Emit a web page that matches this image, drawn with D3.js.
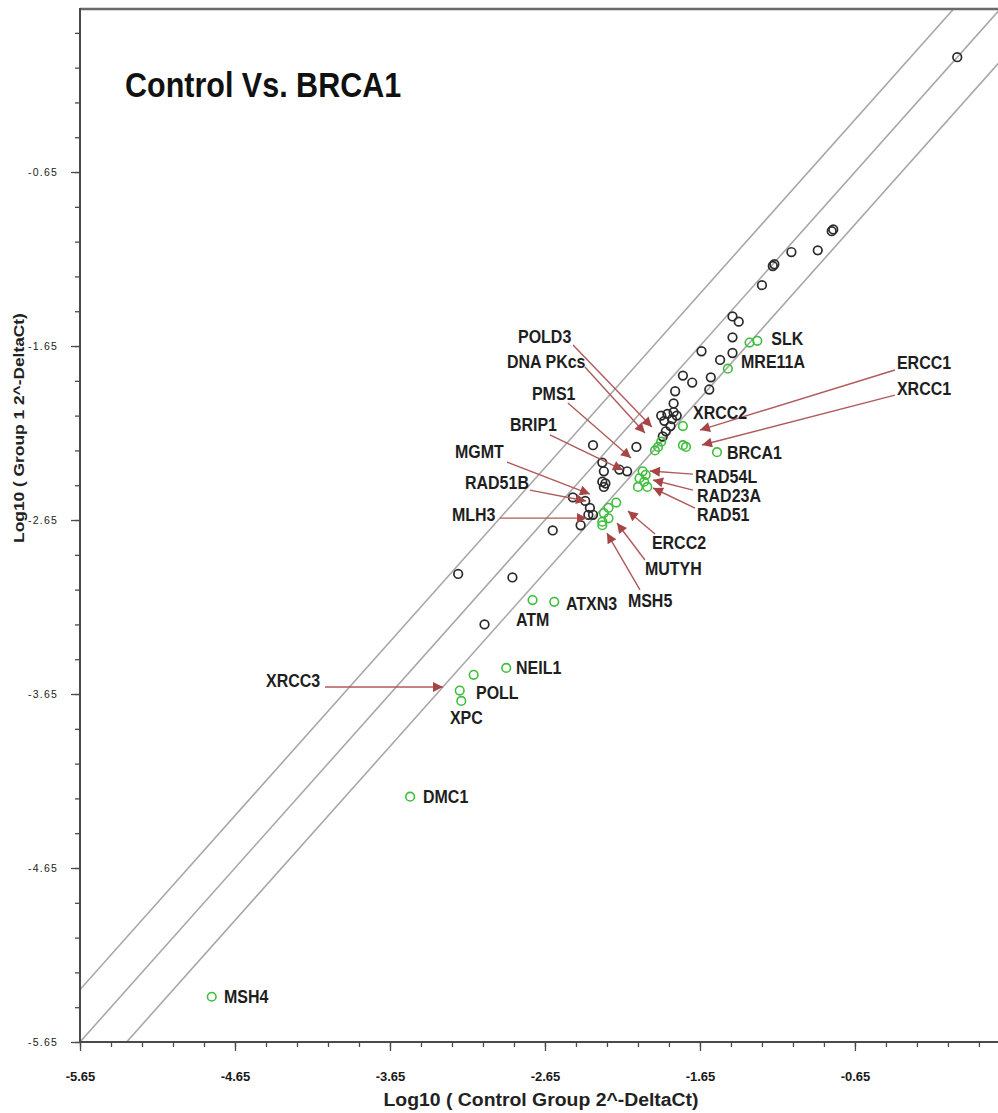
<!DOCTYPE html>
<html>
<head>
<meta charset="utf-8">
<script src="https://cdn.jsdelivr.net/npm/d3@7"></script>
<style>
  html, body { margin: 0; padding: 0; background: #fff; }
  svg { display: block; }
  text { font-family: "Liberation Sans", Arial, sans-serif; }
</style>
</head>
<body>
<svg id="chart" width="998" height="1113"></svg>
<script>
// ---------------- data ----------------
const chartTitle = "Control Vs. BRCA1";
const xAxisTitle = "Log10 ( Control Group 2^-DeltaCt)";
const yAxisTitle = "Log10 ( Group 1 2^-DeltaCt)";

const majorTicks = [-5.65, -4.65, -3.65, -2.65, -1.65, -0.65];
const majorTickLabels = ["-5.65", "-4.65", "-3.65", "-2.65", "-1.65", "-0.65"];
const minorTicks = [-5.65,-5.45,-5.25,-5.05,-4.85,-4.65,-4.45,-4.25,-4.05,-3.85,-3.65,-3.45,-3.25,-3.05,-2.85,-2.65,-2.45,-2.25,-2.05,-1.85,-1.65,-1.45,-1.25,-1.05,-0.85,-0.65,-0.45,-0.25,-0.05,0.15];

// fold-change boundaries: y = x + offset
const boundaryOffsets = [Math.log10(2), 0, -Math.log10(2)];

// genes without significant change (black)
const unchangedX = [0.01,-0.79,-0.80,-0.89,-1.06,-1.18,-1.17,-1.25,-1.44,-1.40,-1.44,-1.64,-1.52,-1.44,-1.76,-1.70,-1.58,-1.59,-1.81,-1.82,-1.90,-1.86,-1.82,-1.80,-1.83,-1.88,-1.84,-1.87,-1.89,-2.34,-2.06,-2.28,-2.17,-2.12,-2.27,-2.28,-2.26,-2.27,-2.47,-2.39,-2.36,-2.37,-2.34,-2.42,-2.60,-3.21,-2.86,-3.04];
const unchangedY = [0.01,-0.98,-0.99,-1.10,-1.11,-1.19,-1.18,-1.30,-1.48,-1.51,-1.60,-1.68,-1.73,-1.69,-1.82,-1.86,-1.83,-1.90,-1.91,-1.98,-2.05,-2.04,-2.03,-2.05,-2.07,-2.08,-2.11,-2.14,-2.17,-2.22,-2.23,-2.32,-2.36,-2.37,-2.37,-2.43,-2.44,-2.46,-2.52,-2.54,-2.58,-2.62,-2.62,-2.68,-2.71,-2.96,-2.98,-3.25];

// down-regulated genes (green)
const downX = [-1.33,-1.28,-1.47,-1.76,-1.76,-1.74,-1.54,-1.90,-1.92,-1.94,-2.02,-2.00,-2.04,-2.01,-2.05,-1.99,-2.19,-2.24,-2.27,-2.24,-2.28,-2.28,-2.73,-2.59,-2.90,-3.11,-3.20,-3.19,-3.52,-4.80];
const downY = [-1.63,-1.62,-1.78,-2.11,-2.22,-2.23,-2.26,-2.20,-2.23,-2.25,-2.37,-2.39,-2.41,-2.43,-2.46,-2.46,-2.55,-2.58,-2.61,-2.64,-2.66,-2.68,-3.11,-3.12,-3.50,-3.54,-3.63,-3.69,-4.24,-5.39];

// labels placed next to their point (anchor in data units)
const directNames = ["SLK","MRE11A","XRCC2","BRCA1","ATXN3","ATM","NEIL1","POLL","XPC","DMC1","MSH4"];
const directLabelX = [-1.19,-1.385,-1.695,-1.476,-2.515,-2.837,-2.837,-3.095,-3.263,-3.437,-4.721];
const directLabelY = [-1.61,-1.742,-2.035,-2.265,-3.133,-3.225,-3.501,-3.644,-3.788,-4.242,-5.391];

// labels connected by arrows (data units)
const arrowNames  = ["POLD3","DNA PKcs","PMS1","BRIP1","MGMT","RAD51B","MLH3","ERCC1","XRCC1","RAD54L","RAD23A","RAD51","ERCC2","MUTYH","MSH5","XRCC3"];
const arrowTextX  = [-2.824,-2.895,-2.734,-2.876,-3.231,-3.166,-3.250,-0.379,-0.379,-1.682,-1.669,-1.669,-1.960,-2.005,-2.115,-4.450];
const arrowTextY  = [-1.598,-1.742,-1.926,-2.104,-2.259,-2.437,-2.621,-1.748,-1.897,-2.403,-2.512,-2.621,-2.782,-2.932,-3.116,-3.575];
const arrowFromX  = [-2.469,-2.392,-2.502,-2.618,-2.895,-2.747,-2.940,-0.392,-0.392,-1.695,-1.695,-1.682,-1.940,-2.005,-2.037,-4.069];
const arrowFromY  = [-1.644,-1.771,-1.978,-2.161,-2.317,-2.478,-2.639,-1.788,-1.932,-2.386,-2.478,-2.581,-2.730,-2.880,-3.052,-3.610];
const arrowToX    = [-1.960,-2.005,-2.095,-2.147,-2.360,-2.385,-2.379,-1.650,-1.637,-1.973,-1.953,-1.953,-2.115,-2.185,-2.250,-3.308];
const arrowToY    = [-2.116,-2.150,-2.294,-2.363,-2.501,-2.541,-2.639,-2.133,-2.219,-2.368,-2.420,-2.466,-2.598,-2.667,-2.725,-3.610];

// ---------------- drawing ----------------
const svg = d3.select("#chart");
const W = 998, H = 1113;
const plotL = 80, plotR = 998, plotT = 9, plotB = 1042;
const STRETCH = 1.12;

svg.append("rect").attr("width", W).attr("height", H).attr("fill", "#fff");

const x = d3.scaleLinear().domain([-5.65, 0.273]).range([plotL, plotR]);
const y = d3.scaleLinear().domain([-5.65, 0.287]).range([plotB, plotT]);

const defs = svg.append("defs");
defs.append("clipPath").attr("id", "plotClip")
  .append("rect").attr("x", plotL).attr("y", plotT).attr("width", plotR - plotL).attr("height", plotB - plotT);
defs.append("marker").attr("id", "arrowHead")
  .attr("viewBox", "0 0 10 10").attr("refX", 10).attr("refY", 5)
  .attr("markerWidth", 13).attr("markerHeight", 10).attr("markerUnits", "userSpaceOnUse")
  .attr("orient", "auto")
  .append("path").attr("d", "M0,0 L10,5 L0,10 Z").attr("fill", "#a64545");

// helper for vertically stretched text
function stretchedText(g, px, py, str, opts) {
  const t = g.append("text")
    .attr("transform", `translate(${px},${py}) scale(1,${STRETCH})`)
    .attr("dominant-baseline", "central")
    .text(str);
  Object.entries(opts || {}).forEach(([k, v]) => t.attr(k, v));
  return t;
}

// diagonal boundary lines
const plotG = svg.append("g").attr("clip-path", "url(#plotClip)");
plotG.selectAll("line.diag").data(boundaryOffsets).enter().append("line")
  .attr("class", "diag")
  .attr("x1", d => x(-6)).attr("y1", d => y(-6 + d))
  .attr("x2", d => x(0.5)).attr("y2", d => y(0.5 + d))
  .attr("stroke", "#a8a8a8").attr("stroke-width", 1.6);

// points
const unchanged = unchangedX.map((v, i) => ({x: v, y: unchangedY[i]}));
const down = downX.map((v, i) => ({x: v, y: downY[i]}));

plotG.selectAll("circle.unch").data(unchanged).enter().append("circle")
  .attr("class", "unch")
  .attr("cx", d => x(d.x)).attr("cy", d => y(d.y)).attr("r", 4.3)
  .attr("fill", "none").attr("stroke", "#2a2a2a").attr("stroke-width", 1.7);

plotG.selectAll("circle.down").data(down).enter().append("circle")
  .attr("class", "down")
  .attr("cx", d => x(d.x)).attr("cy", d => y(d.y)).attr("r", 4.3)
  .attr("fill", "none").attr("stroke", "#3cbf3c").attr("stroke-width", 1.6);

// arrows
const arrows = arrowNames.map((n, i) => ({
  name: n, tx: arrowTextX[i], ty: arrowTextY[i],
  fx: arrowFromX[i], fy: arrowFromY[i], ex: arrowToX[i], ey: arrowToY[i]
}));
svg.append("g").selectAll("line").data(arrows).enter().append("line")
  .attr("x1", d => x(d.fx)).attr("y1", d => y(d.fy))
  .attr("x2", d => x(d.ex)).attr("y2", d => y(d.ey))
  .attr("stroke", "#b05a5a").attr("stroke-width", 1.4)
  .attr("marker-end", "url(#arrowHead)");

// labels
const labelG = svg.append("g");
const labelStyle = {"font-size": 16, "font-weight": "bold", "fill": "#1e1e1e"};
arrows.forEach(d => stretchedText(labelG, x(d.tx), y(d.ty), d.name, labelStyle));
directNames.forEach((n, i) => stretchedText(labelG, x(directLabelX[i]), y(directLabelY[i]), n, labelStyle));

// title
stretchedText(svg, 125, 85, chartTitle, {"font-size": 30.5, "font-weight": "bold", "fill": "#111"});

// axes
const axisColor = "#4a4a4a";
const xMinor = d3.axisBottom(x).tickValues(minorTicks).tickSize(5).tickFormat("");
const xMajor = d3.axisBottom(x).tickValues(majorTicks).tickSize(9).tickPadding(21)
  .tickFormat((d, i) => majorTickLabels[i]);
const yMinor = d3.axisLeft(y).tickValues(minorTicks).tickSize(5).tickFormat("");
const yMajor = d3.axisLeft(y).tickValues(majorTicks).tickSize(9).tickPadding(13)
  .tickFormat((d, i) => majorTickLabels[i]);

function styleAxis(g) {
  g.select(".domain").remove();
  g.selectAll(".tick line").attr("stroke", axisColor).attr("stroke-width", 1.3);
  g.selectAll("text").attr("fill", "#222").attr("font-family", "'Liberation Sans', Arial, sans-serif");
}
svg.append("g").attr("transform", `translate(0,${plotB})`).call(xMinor).call(styleAxis);
const gx = svg.append("g").attr("transform", `translate(0,${plotB})`).call(xMajor).call(styleAxis);
gx.selectAll("text").attr("font-size", 13).attr("font-weight", "bold").attr("fill", "#1a1a1a");
svg.append("g").attr("transform", `translate(0,0)`).attr("transform", `translate(${plotL},0)`).call(yMinor).call(styleAxis);
const gy = svg.append("g").attr("transform", `translate(${plotL},0)`).call(yMajor).call(styleAxis);
gy.selectAll("text").attr("font-size", 10.5).attr("letter-spacing", 1.2);

// frame lines
svg.append("line").attr("x1", plotL).attr("x2", plotR).attr("y1", plotT).attr("y2", plotT)
  .attr("stroke", "#6a6a6a").attr("stroke-width", 2.5);
svg.append("line").attr("x1", plotL).attr("x2", plotL).attr("y1", plotT - 1).attr("y2", plotB + 1)
  .attr("stroke", axisColor).attr("stroke-width", 2);
svg.append("line").attr("x1", plotL - 1).attr("x2", plotR).attr("y1", plotB).attr("y2", plotB)
  .attr("stroke", axisColor).attr("stroke-width", 2);

// axis titles
stretchedText(svg, 541, 1100, xAxisTitle, {"font-size": 17, "font-weight": "bold", "fill": "#222",
  "text-anchor": "middle", "textLength": 315, "lengthAdjust": "spacingAndGlyphs"});
svg.append("text")
  .attr("transform", `translate(18,428) rotate(-90) scale(${STRETCH},1)`)
  .attr("text-anchor", "middle").attr("dominant-baseline", "central")
  .attr("font-size", 15.5).attr("font-weight", "bold").attr("fill", "#222")
  .text(yAxisTitle);
</script>
</body>
</html>
